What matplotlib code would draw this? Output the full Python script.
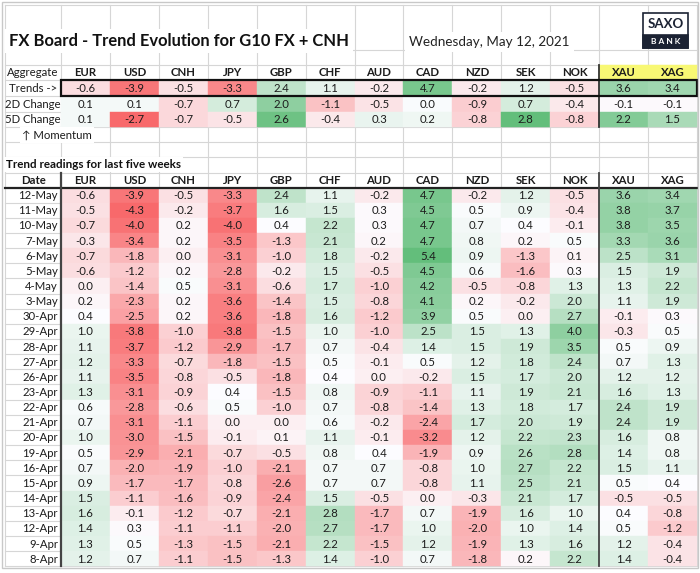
import numpy as np
import matplotlib
matplotlib.use("Agg")
import matplotlib.pyplot as plt
from matplotlib.patches import Rectangle

# ---------------- data ----------------
currencies = ["EUR", "USD", "CNH", "JPY", "GBP", "CHF", "AUD", "CAD", "NZD", "SEK", "NOK", "XAU", "XAG"]

trends    = [-0.6, -3.9, -0.5, -3.3, 2.4, 1.1, -0.2, 4.7, -0.2, 1.2, -0.5, 3.6, 3.4]
change_2d = [0.1, 0.1, -0.7, 0.7, 2.0, -1.1, -0.5, 0.0, -0.9, 0.7, -0.4, -0.1, -0.1]
change_5d = [0.1, -2.7, -0.7, -0.5, 2.6, -0.4, 0.3, 0.2, -0.8, 2.8, -0.8, 2.2, 1.5]

dates = ["12-May", "11-May", "10-May", "7-May", "6-May", "5-May", "4-May", "3-May",
         "30-Apr", "29-Apr", "28-Apr", "27-Apr", "26-Apr", "23-Apr", "22-Apr", "21-Apr",
         "20-Apr", "19-Apr", "16-Apr", "15-Apr", "14-Apr", "13-Apr", "12-Apr", "9-Apr", "8-Apr"]

readings = [
    [-0.6, -3.9, -0.5, -3.3, 2.4, 1.1, -0.2, 4.7, -0.2, 1.2, -0.5, 3.6, 3.4],
    [-0.5, -4.3, -0.2, -3.7, 1.6, 1.5, 0.3, 4.5, 0.5, 0.9, -0.4, 3.8, 3.7],
    [-0.7, -4.0, 0.2, -4.0, 0.4, 2.2, 0.3, 4.7, 0.7, 0.4, -0.1, 3.8, 3.5],
    [-0.3, -3.4, 0.2, -3.5, -1.3, 2.1, 0.2, 4.7, 0.8, 0.2, 0.5, 3.3, 3.6],
    [-0.7, -1.8, 0.0, -3.1, -1.0, 1.8, -0.2, 5.4, 0.9, -1.3, 0.1, 2.5, 3.1],
    [-0.6, -1.2, 0.2, -2.8, -0.2, 1.5, -0.5, 4.5, 0.6, -1.6, 0.3, 1.5, 1.9],
    [0.0, -1.4, 0.5, -3.1, -0.6, 1.7, -1.0, 4.2, -0.5, -0.8, 1.3, 1.3, 2.2],
    [0.2, -2.3, 0.2, -3.6, -1.4, 1.5, -0.8, 4.1, 0.2, -0.2, 2.0, 1.1, 1.9],
    [0.4, -2.5, 0.2, -3.6, -1.8, 1.6, -1.2, 3.9, 0.5, 0.0, 2.7, -0.1, 0.3],
    [1.0, -3.8, -1.0, -3.8, -1.5, 1.0, -1.0, 2.5, 1.5, 1.3, 4.0, -0.3, 0.5],
    [1.1, -3.7, -1.2, -2.9, -1.7, 0.7, -0.4, 1.4, 1.5, 1.9, 3.5, 0.5, 0.9],
    [1.2, -3.3, -0.7, -1.8, -1.5, 0.5, -0.1, 0.5, 1.2, 1.8, 2.4, 0.7, 1.3],
    [1.1, -3.5, -0.8, -0.5, -1.8, 0.4, 0.0, -0.2, 1.5, 1.7, 2.0, 1.2, 1.2],
    [1.3, -3.1, -0.9, 0.4, -1.5, 0.8, -0.9, -1.1, 1.1, 1.9, 2.1, 1.6, 1.3],
    [0.6, -2.8, -0.6, 0.5, -1.0, 0.7, -0.8, -1.4, 1.3, 1.8, 1.7, 2.4, 1.9],
    [0.7, -3.1, -1.1, 0.0, 0.0, 0.6, -0.2, -2.4, 1.7, 2.0, 1.9, 2.4, 1.9],
    [1.0, -3.0, -1.5, -0.1, 0.1, 1.1, -0.1, -3.2, 1.2, 2.2, 2.3, 1.6, 0.8],
    [0.5, -2.9, -2.1, -0.7, -0.5, 0.8, 0.4, -1.9, 0.9, 2.6, 2.8, 1.4, 0.8],
    [0.7, -2.0, -1.9, -1.0, -2.1, 0.7, 0.7, -0.8, 1.0, 2.7, 2.2, 1.5, 1.1],
    [0.9, -1.7, -1.7, -0.8, -2.6, 0.7, 0.7, -0.8, 1.1, 2.5, 2.1, 0.5, 0.4],
    [1.5, -1.1, -1.6, -0.9, -2.4, 1.5, -0.5, 0.0, -0.3, 2.1, 1.7, -0.5, -0.5],
    [1.6, -0.1, -1.2, -0.7, -2.1, 2.8, -1.7, 0.7, -1.9, 1.6, 1.0, 0.4, -0.8],
    [1.4, 0.3, -1.1, -1.1, -2.0, 2.7, -1.7, 1.0, -2.0, 1.0, 1.4, 0.5, -1.2],
    [1.3, 0.5, -1.3, -1.5, -2.1, 2.2, -1.5, 1.2, -1.9, 1.3, 1.6, 1.2, -0.4],
    [1.2, 0.7, -1.1, -1.5, -1.3, 1.4, -1.0, 0.7, -1.8, 0.2, 2.2, 1.4, -0.4],
]

# ---------------- colour scale (Excel red-white-green) ----------------
RED = np.array([248, 105, 107]) / 255
MID = np.array([252, 252, 255]) / 255
GRN = np.array([99, 190, 123]) / 255


def make_scale(values):
    arr = np.asarray(values, dtype=float).ravel()
    lo, hi, md = arr.min(), arr.max(), np.median(arr)

    def f(v):
        if v <= md:
            t = (md - v) / (md - lo) if md > lo else 0
            return tuple(MID + (RED - MID) * t)
        t = (v - md) / (hi - md) if hi > md else 0
        return tuple(MID + (GRN - MID) * t)
    return f


table_scale = make_scale(readings)
change_scale = make_scale([change_2d, change_5d])

# ---------------- figure ----------------
fig = plt.figure(figsize=(7.0, 5.73), dpi=100)
ax = fig.add_axes([0, 0, 1, 1])
ax.set_xlim(0, 700)
ax.set_ylim(573, 0)
ax.axis("off")

FONT = ["Lato", "DejaVu Sans"]
GRID = "#d6d6d6"
TXT = "#1c1c1c"

x0 = 61.0
xr = 697.0
ncol = len(currencies)
cw = (xr - x0) / ncol
xl = 5.0

# row boundaries
top_rows = [5.0, 50.0, 64.5, 80.0, 96.0, 111.5, 127.0, 142.0, 157.0, 172.5]
y_tab = 187.5
rh = 15.15
nrow = len(dates)
y_bot = y_tab + nrow * rh

col_edges = [x0 + j * cw for j in range(ncol + 1)]
row_edges = top_rows + [y_tab + i * rh for i in range(nrow + 1)]

# gridlines
for x in [xl] + col_edges:
    ax.plot([x, x], [5, y_bot], color=GRID, lw=0.8, zorder=1)
for y in row_edges:
    ax.plot([xl, xr], [y, y], color=GRID, lw=0.8, zorder=1)


def cell(j, ytop, h, color):
    ax.add_patch(Rectangle((x0 + j * cw, ytop), cw, h, facecolor=color,
                           edgecolor=color, lw=0.3, zorder=2))


def ctext(x, y, s, **kw):
    kw.setdefault("fontsize", 8.2)
    kw.setdefault("color", TXT)
    kw.setdefault("family", FONT)
    kw.setdefault("ha", "center")
    kw.setdefault("va", "center")
    ax.text(x, y, s, zorder=5, **kw)


# ---------------- title area ----------------
ax.text(9, 41, "FX Board - Trend Evolution for G10 FX + CNH", fontsize=11.9,
        fontweight="bold", family=FONT, color="#111111", ha="left", va="center",
        zorder=5, bbox=dict(facecolor="white", edgecolor="none", pad=3))
ax.text(409, 42, "Wednesday, May 12, 2021", fontsize=9.7, family=FONT,
        color="#222222", ha="left", va="center", zorder=5,
        bbox=dict(facecolor="white", edgecolor="none", pad=3))

# SAXO BANK logo
ax.add_patch(Rectangle((643, 12.7), 45, 35, facecolor="white", edgecolor="#1b2233",
                       lw=1.2, zorder=6))
ax.add_patch(Rectangle((643, 34.5), 45, 13.2, facecolor="#1b2233", edgecolor="#1b2233",
                       lw=1.2, zorder=7))
ax.text(665.5, 24, "SAXO", fontsize=9.5, fontweight="bold", family=FONT,
        color="#1b2233", ha="center", va="center", zorder=8)
ax.text(665.5, 41.3, "B A N K", fontsize=6.0, fontweight="bold", family=FONT,
        color="white", ha="center", va="center", zorder=8)

# ---------------- aggregate section ----------------
yh0, yh1 = top_rows[2], top_rows[3]
for j in (11, 12):
    cell(j, yh0, yh1 - yh0, "#f8f874")
for j, c in enumerate(currencies):
    ctext(x0 + (j + 0.5) * cw, (yh0 + yh1) / 2 + 0.5, c, fontweight="bold")
ctext(33, (yh0 + yh1) / 2 + 0.5, "Aggregate")

agg_rows = [("Trends ->", trends, table_scale),
            ("2D Change", change_2d, change_scale),
            ("5D Change", change_5d, change_scale)]
for k, (lab, vals, sc) in enumerate(agg_rows):
    ya, yb = top_rows[3 + k], top_rows[4 + k]
    for j, v in enumerate(vals):
        cell(j, ya, yb - ya, sc(v))
        ctext(x0 + (j + 0.5) * cw, (ya + yb) / 2 + 0.5, f"{v:.1f}")
    ctext(33, (ya + yb) / 2 + 0.5, lab)

ym = (top_rows[6] + top_rows[7]) / 2 + 0.5
ax.text(22, ym, "\u2191 Momentum", fontsize=8.2, family=FONT,
        color=TXT, ha="left", va="center", zorder=5,
        bbox=dict(facecolor="white", edgecolor="none", pad=1.5))

# box around trends row
ax.add_patch(Rectangle((x0, top_rows[3]), xr - x0, top_rows[4] - top_rows[3],
                       facecolor="none", edgecolor="#111111", lw=1.6, zorder=6))
# separator before metals (top)
xs = x0 + 11 * cw
ax.plot([xs, xs], [top_rows[2], top_rows[6]], color="#333333", lw=1.3, zorder=5)

# ---------------- trend readings table ----------------
ax.text(6, (top_rows[8] + top_rows[9]) / 2, "Trend readings for last five weeks",
        fontsize=8.4, fontweight="bold", family=FONT, color="#111111",
        ha="left", va="center", zorder=5,
        bbox=dict(facecolor="white", edgecolor="none", pad=1.5))

yhh = (top_rows[9] + y_tab) / 2 + 0.5
ctext(33, yhh, "Date", fontweight="bold")
for j, c in enumerate(currencies):
    ctext(x0 + (j + 0.5) * cw, yhh, c, fontweight="bold")

for i, (d, row) in enumerate(zip(dates, readings)):
    ya = y_tab + i * rh
    for j, v in enumerate(row):
        cell(j, ya, rh, table_scale(v))
        ctext(x0 + (j + 0.5) * cw, ya + rh / 2 + 0.5, f"{v:.1f}")
    ctext(58, ya + rh / 2 + 0.5, d, ha="right")

# thick structural lines
ax.plot([xl, xr], [y_tab, y_tab], color="#222222", lw=1.6, zorder=6)
ax.plot([x0, x0], [top_rows[9], y_bot], color="#444444", lw=1.6, zorder=6)
ax.plot([xs, xs], [top_rows[9], y_bot], color="#444444", lw=1.3, zorder=6)

# outer frame
ax.add_patch(Rectangle((2, 2), 696, y_bot + 1.5 - 2, facecolor="none",
                       edgecolor="#c8c8c8", lw=1.0, zorder=7))

fig.savefig("out.png", dpi=100, facecolor="white")
